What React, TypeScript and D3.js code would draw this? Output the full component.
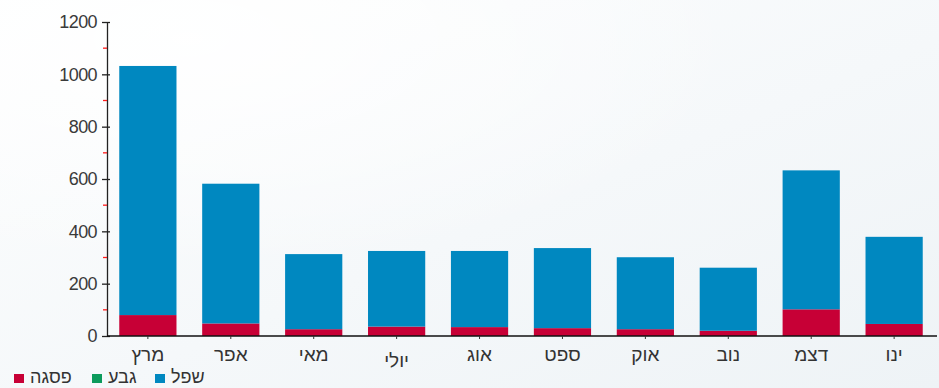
import { useEffect, useRef } from 'react';
import { axisBottom, axisLeft, format, range, scaleBand, scaleLinear, select, stack } from 'd3';

const months = ['מרץ', 'אפר', 'מאי', 'יולי', 'אוג', 'ספט', 'אוק', 'נוב', 'דצמ', 'ינו'];
const peak = [80, 48, 26, 36, 34, 30, 26, 20, 102, 46];
const hill = [0, 0, 0, 0, 0, 0, 0, 0, 0, 0];
const low = [952, 534, 287, 289, 291, 306, 275, 241, 531, 333];

const seriesKeys = ['peak', 'hill', 'low'];
const seriesNames = ['פסגה', 'גבע', 'שפל'];
const seriesColors = ['#c70036', '#0c9b5c', '#0088c0'];

const yMax = 1200;
const yMajor = range(0, 1201, 200);
const yMinor = range(100, 1200, 200);

const W = 939;
const H = 388;

export default function App() {
  const svgRef = useRef<SVGSVGElement | null>(null);

  useEffect(() => {
    const svgEl = svgRef.current;
    if (!svgEl) return;
    const svg = select(svgEl);
    svg.selectAll('*').remove();

    const rows = months.map((m, i) => ({ month: m, peak: peak[i], hill: hill[i], low: low[i] }));

    const x = scaleBand<string>().domain(months).range([106, 936]).paddingInner(0.31).paddingOuter(0.16);
    const y = scaleLinear().domain([0, yMax]).range([336, 22]);

    // background
    const defs = svg.append('defs');
    const grad = defs.append('linearGradient').attr('id', 'bg').attr('x1', 0).attr('y1', 0).attr('x2', 1).attr('y2', 1);
    grad.append('stop').attr('offset', '0%').attr('stop-color', '#fdfefe');
    grad.append('stop').attr('offset', '55%').attr('stop-color', '#f5f8fa');
    grad.append('stop').attr('offset', '100%').attr('stop-color', '#eef3f6');
    const rad = defs.append('radialGradient').attr('id', 'glow').attr('cx', 0.2).attr('cy', 0.1).attr('r', 0.6);
    rad.append('stop').attr('offset', '0%').attr('stop-color', '#ffffff').attr('stop-opacity', 0.9);
    rad.append('stop').attr('offset', '100%').attr('stop-color', '#ffffff').attr('stop-opacity', 0);
    svg.append('rect').attr('width', W).attr('height', H).attr('fill', 'url(#bg)');
    svg.append('rect').attr('width', W).attr('height', H).attr('fill', 'url(#glow)');

    // bars
    const stacked = stack<any>().keys(seriesKeys)(rows);
    const barLayer = svg.append('g');
    stacked.forEach((layer, li) => {
      barLayer
        .append('g')
        .attr('fill', seriesColors[li])
        .selectAll('rect')
        .data(layer)
        .join('rect')
        .attr('x', (d: any) => x(d.data.month) as number)
        .attr('width', x.bandwidth())
        .attr('y', (d: any) => y(d[1]))
        .attr('height', (d: any) => Math.max(0, y(d[0]) - y(d[1])));
    });

    // y axis
    const yAxis = svg
      .append('g')
      .attr('transform', 'translate(107,0)')
      .call(axisLeft(y).tickValues(yMajor).tickFormat(format('d')).tickSize(5).tickPadding(6).tickSizeOuter(0));
    yAxis.select('.domain').attr('stroke', '#222').attr('stroke-width', 1.3);
    yAxis.selectAll('.tick line').attr('stroke', '#222').attr('x1', 3).attr('x2', -5).attr('stroke-width', 1.3);
    yAxis
      .selectAll('.tick text')
      .attr('fill', '#3a3a3a')
      .attr('font-family', 'Liberation Sans, Arial, sans-serif')
      .attr('font-size', 18)
      .attr('letter-spacing', -0.6)
      .attr('x', -10);
    svg
      .append('g')
      .selectAll('line')
      .data(yMinor)
      .join('line')
      .attr('x1', 103)
      .attr('x2', 107)
      .attr('y1', (d) => y(d))
      .attr('y2', (d) => y(d))
      .attr('stroke', '#ff1a1a')
      .attr('stroke-width', 1.3);

    // x axis
    const xAxis = svg
      .append('g')
      .attr('transform', 'translate(0,336)')
      .call(axisBottom(x).tickSize(3).tickPadding(6).tickSizeOuter(0));
    xAxis.select('.domain').attr('stroke', '#111').attr('stroke-width', 1.5).attr('d', 'M107,0H937');
    xAxis.selectAll('.tick line').attr('stroke', '#333');
    xAxis
      .selectAll('.tick text')
      .attr('fill', '#333')
      .attr('font-family', 'Liberation Sans, Arial, sans-serif')
      .attr('font-size', 19)
      .attr('dy', (d: any) => (d.includes('ל') ? '1.15em' : '0.85em'));

    // legend
    const legend = svg.append('g').attr('transform', 'translate(14,378)');
    const offsets = [0, 78, 141];
    seriesNames.forEach((name, i) => {
      const g = legend.append('g').attr('transform', `translate(${offsets[i]},0)`);
      g.append('rect').attr('x', 0).attr('y', -4).attr('width', 10).attr('height', 9).attr('fill', seriesColors[i]);
      g.append('text')
        .attr('x', 16)
        .attr('y', 5)
        .attr('fill', '#333')
        .attr('font-family', 'Liberation Sans, Arial, sans-serif')
        .attr('font-size', 18)
        .attr('direction', 'ltr')
        .text(name);
    });
  }, []);

  return (
    <div style={{ position: 'absolute', left: 0, top: 0, width: W, height: H }}>
      <svg ref={svgRef} width={W} height={H} style={{ display: 'block' }} />
    </div>
  );
}
